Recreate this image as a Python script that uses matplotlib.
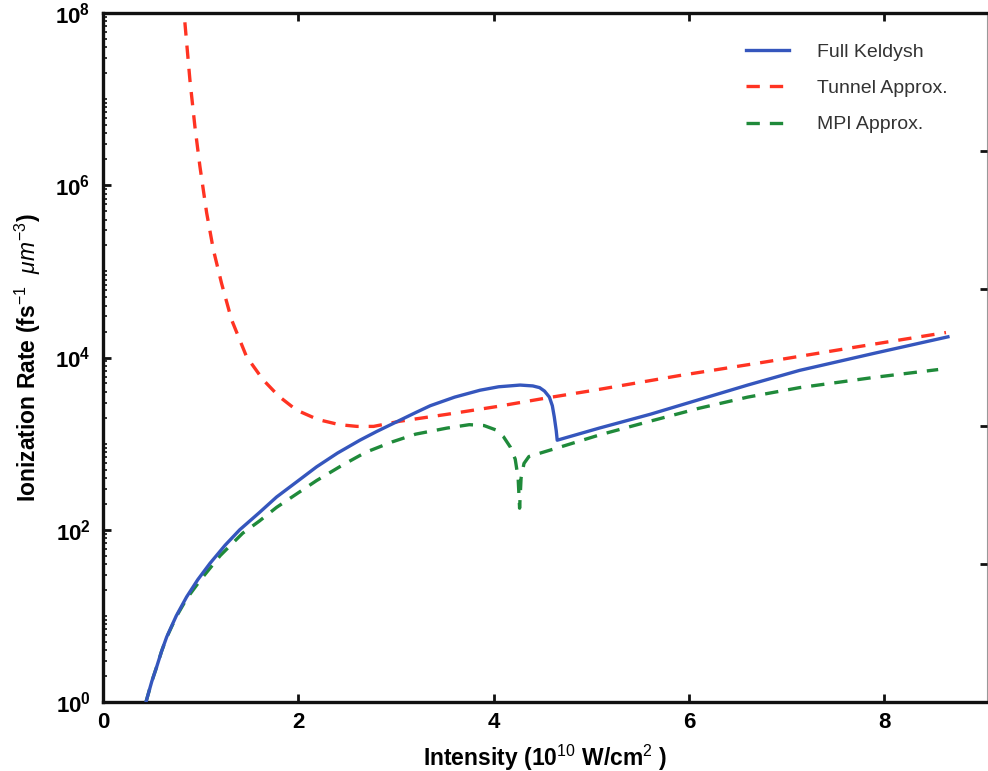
import numpy as np
import matplotlib
matplotlib.use("Agg")
import matplotlib.pyplot as plt
from matplotlib.ticker import FixedLocator, NullFormatter, NullLocator

plt.rcParams['font.family'] = ['Liberation Sans', 'DejaVu Sans']
plt.rcParams['mathtext.fontset'] = 'custom'
plt.rcParams['mathtext.rm'] = 'Liberation Sans'
plt.rcParams['mathtext.bf'] = 'Liberation Sans:bold'
plt.rcParams['mathtext.it'] = 'Liberation Sans:italic'

# ---- data ----
keldysh_x = [0.44, 0.50, 0.55, 0.60, 0.652, 0.75, 0.856, 0.97, 1.095, 1.25, 1.40, 1.6,
             1.777, 2.0, 2.186, 2.4, 2.63, 2.8, 3.0, 3.2, 3.35, 3.6, 3.86, 4.05, 4.27,
             4.4, 4.47, 4.52, 4.57, 4.60, 4.62, 4.64, 4.65, 5.08, 5.6, 6.1, 6.6, 7.13,
             7.9, 8.65]
keldysh_y = [1.0, 1.74, 2.57, 3.89, 5.69, 10, 16.6, 26.3, 40.7, 66.1, 100, 158,
             240, 372, 537, 776, 1096, 1380, 1778, 2291, 2754, 3467, 4169, 4571, 4786,
             4677, 4467, 4074, 3467, 2754, 2042, 1413, 1096, 1514, 2188, 3236, 4786, 7079,
             11220, 17378]

tunnel_x = [0.825, 0.839, 0.89, 0.941, 0.992, 1.061, 1.13, 1.214, 1.316, 1.47, 1.64,
            1.8, 1.98, 2.2, 2.42, 2.6, 2.77, 3.04, 3.52, 4.03, 4.54, 5.03, 5.9, 6.79,
            7.7, 8.63]
tunnel_y = [1.58e8, 7.59e7, 1.66e7, 4.79e6, 1.66e6, 4.79e5, 1.78e5, 7.24e4, 2.75e4,
            1.02e4, 5495, 3548, 2455, 1905, 1660, 1585, 1585, 1820, 2188, 2692, 3388,
            4169, 6166, 8913, 13183, 19498]

mpi_x = [0.44, 0.50, 0.55, 0.60, 0.652, 0.75, 0.856, 1.0, 1.2, 1.43, 1.6, 1.777, 2.0,
         2.186, 2.45, 2.69, 2.96, 3.2, 3.52, 3.75, 3.9, 4.02, 4.1, 4.17, 4.22, 4.25,
         4.265, 4.28, 4.31, 4.36, 4.68, 5.08, 5.6, 6.1, 6.6, 7.13, 7.9, 8.55]
mpi_y = [1.0, 1.74, 2.57, 3.89, 5.62, 9.77, 15.8, 26.3, 50.1, 91.2, 126, 182, 269,
         372, 562, 794, 1047, 1288, 1514, 1660, 1622, 1445, 1202, 912, 661, 398,
         178, 398, 589, 708, 912, 1259, 1820, 2570, 3467, 4467, 5888, 7244]

xticks = [0, 2, 4, 6, 8]
yticks_major = [1e0, 1e2, 1e4, 1e6, 1e8]
ytick_labels = [r'$\mathbf{10^{0}}$', r'$\mathbf{10^{2}}$', r'$\mathbf{10^{4}}$',
                r'$\mathbf{10^{6}}$', r'$\mathbf{10^{8}}$']

fig = plt.figure(figsize=(9.88, 7.71), dpi=100)
ax = fig.add_axes([103/988, 1 - 702/771, 884/988, 689/771])

blue = '#3556bd'
red = '#ff3322'
green = '#1f8a3a'

ax.plot(keldysh_x, keldysh_y, color=blue, lw=2.4, label='Full Keldysh', zorder=3)
ax.plot(tunnel_x, tunnel_y, color=red, lw=2.4, ls=(0, (4.0, 3.0)), label='Tunnel Approx.')
ax.plot(mpi_x, mpi_y, color=green, lw=2.4, ls=(0, (4.0, 3.0)), label='MPI Approx.')

ax.set_yscale('log')
ax.set_xlim(0, 9.05)
ax.set_ylim(1e0, 1e8)

ax.set_xticks(xticks)
ax.set_xticklabels([str(t) for t in xticks], fontweight='bold', fontsize=16)
ax.yaxis.set_major_locator(FixedLocator(yticks_major))
ax.set_yticklabels(ytick_labels, fontsize=16)
minors = [k * 10.0**d for d in range(0, 8) for k in range(1, 10)
          if not (k == 1 and d % 2 == 0)]
ax.yaxis.set_minor_locator(FixedLocator(minors))
ax.yaxis.set_minor_formatter(NullFormatter())
ax.xaxis.set_minor_locator(NullLocator())

ax.tick_params(axis='both', which='major', direction='in', length=6, width=2, color='#111111')
ax.tick_params(axis='y', which='minor', direction='in', length=3, width=1.2, color='#111111')
ax.tick_params(axis='x', which='major', top=True, pad=7)
ax.tick_params(axis='y', which='both', pad=9)

for s in ['left', 'bottom', 'top']:
    ax.spines[s].set_linewidth(2.4)
    ax.spines[s].set_color('#111111')
ax.spines['right'].set_linewidth(0.8)
ax.spines['right'].set_color('#999999')

# right-side ticks (secondary axis divisions)
ax2 = ax.twinx()
ax2.set_yscale('log')
ax2.set_ylim(1e0, 1e8)
ax2.yaxis.set_major_locator(FixedLocator([10**1.6, 10**3.2, 10**4.8, 10**6.4]))
ax2.yaxis.set_minor_locator(NullLocator())
ax2.yaxis.set_major_formatter(NullFormatter())
ax2.tick_params(axis='y', direction='in', length=5, width=2, color='#111111')
for s in ax2.spines.values():
    s.set_visible(False)

ax.set_xlabel(r'Intensity (10$^{10}$ W/cm$^{2}$ )', fontweight='bold', fontsize=16.5, labelpad=7)
ax.set_ylabel(r'Ionization Rate (fs$^{-1}$  $\mu m^{-3}$)', fontweight='bold', fontsize=16.5, labelpad=9)

leg = ax.legend(loc='upper left', frameon=False, fontsize=14, handlelength=2.2,
                handletextpad=1.45, labelspacing=0.95, borderpad=0.4,
                bbox_to_anchor=(0.708, 0.981))
for t in leg.get_texts():
    t.set_color('#333333')

fig.savefig('out.png', dpi=100)
